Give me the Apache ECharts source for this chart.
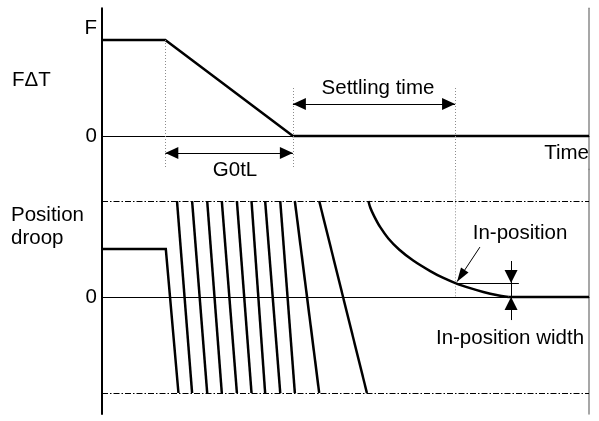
<!DOCTYPE html>
<html>
<head>
<meta charset="utf-8">
<script src="https://cdn.jsdelivr.net/npm/echarts@6/dist/echarts.min.js"></script>
<style>
html,body{margin:0;padding:0;background:#fff;}
#c{width:599px;height:421px;}
</style>
</head>
<body>
<div id="c"></div>
<script>
// ---------- data (time in arbitrary units 0..100) ----------
const decelStart = 13;      // start of deceleration
const decelEnd = 39.2;      // end of command (G0tL)
const settleEnd = 72.5;     // in-position reached
const inPosWidth = 0.145;   // in-position width (droop units)

// top panel: F∆T
const fdtTime  = [0, 13, 39.2, 100];
const fdtValue = [1, 1, 0, 0];

// bottom panel: position droop
const droopStartTime  = [0, 13.1];
const droopStartValue = [0.5, 0.5];
const wrapTopTime    = [15.4, 18.5, 21.6, 24.6, 27.7, 30.7, 33.5, 36.6, 39.6, 44.6];
const wrapBottomTime = [15.7, 18.5, 21.6, 24.6, 27.7, 30.7, 33.5, 36.6, 39.6, 44.6, 54.4];
const settleTime  = [54.7, 55.1, 55.9, 57.1, 58.8, 61.0, 63.9, 67.4, 70.1, 72.8, 75.6, 78.3, 81.0, 83.5];
const settleValue = [1.0, 0.93, 0.84, 0.73, 0.61, 0.495, 0.38, 0.27, 0.198, 0.14, 0.092, 0.052, 0.02, 0];
const restTime  = [83.5, 100];
const restValue = [0, 0];

const topTickValues = [0, 1.12];
const topTickLabels = ['0', 'F'];
const bottomTickValues = [0];
const bottomTickLabels = ['0'];

// ---------- layout ----------
const FONT = '"Liberation Sans", Arial, Helvetica, sans-serif';
const FS = 20.5;
const PX = 96;                 // px per value unit
const topZero = 136, botZero = 297;
const topMin = -0.35, topMax = 1.33;
const botMin = -1.22, botMax = 1.33;

const zip = (a, b) => a.map((v, i) => [v, b[i]]);
const black = '#000';
const thick = { color: black, width: 2.5, join: 'miter' };

const chart = echarts.init(document.getElementById('c'), null, { renderer: 'canvas' });

function yAxes(grid, min, max, vals, labels) {
  return [{
    gridIndex: grid, type: 'value', min, max, position: 'left',
    axisLine: { show: true, onZero: false, lineStyle: { color: black, width: 2 } },
    axisTick: { show: false }, splitLine: { show: false },
    axisLabel: {
      show: true, customValues: vals, margin: 5,
      formatter: v => { const i = vals.findIndex(x => Math.abs(x - v) < 1e-6); return i >= 0 ? labels[i] : ''; },
      fontSize: FS, fontFamily: FONT, color: black
    }
  }, {
    gridIndex: grid, type: 'value', min, max, position: 'right',
    axisLine: { show: true, onZero: false, lineStyle: { color: '#8a8a8a', width: 1.5 } },
    axisTick: { show: false }, splitLine: { show: false }, axisLabel: { show: false }
  }];
}
function xAxis(grid) {
  return {
    gridIndex: grid, type: 'value', min: 0, max: 100,
    axisLine: { show: true, onZero: true, lineStyle: { color: black, width: 1 } },
    axisTick: { show: false }, axisLabel: { show: false }, splitLine: { show: false }
  };
}

const dotted = { color: '#8c8c8c', width: 1, type: [1, 2] };
const thin = { color: black, width: 1, type: 'solid' };
const dashDot = { color: black, width: 1, type: [6, 2, 1.5, 2] };
const AH = [12, 13];

const seg = (p, q, style, s1, s2, size) => {
  const sz = size || AH;
  return [
    { coord: p, symbol: s1 || 'none', symbolSize: sz, symbolOffset: [0, sz[1] / 2], lineStyle: style },
    { coord: q, symbol: s2 || 'none', symbolSize: sz, symbolOffset: [0, sz[1] / 2] }
  ];
};

const series = [];
series.push({
  type: 'line', xAxisIndex: 0, yAxisIndex: 0, data: zip(fdtTime, fdtValue),
  symbol: 'none', lineStyle: thick, silent: true, animation: false,
  markLine: {
    silent: true, animation: false, symbol: ['none', 'none'], label: { show: false },
    data: [
      seg([decelStart, 1], [decelStart, -0.33], dotted),
      seg([decelEnd, 0.5], [decelEnd, -0.33], dotted),
      seg([settleEnd, 0.5], [settleEnd, topMin], dotted),
      seg([decelStart, -0.177], [decelEnd, -0.177], thin, 'triangle', 'triangle'),
      seg([decelEnd, 0.333], [settleEnd, 0.333], thin, 'triangle', 'triangle')
    ]
  }
});
// droop
series.push({
  type: 'line', xAxisIndex: 1, yAxisIndex: 2,
  data: zip(droopStartTime, droopStartValue).concat([[wrapBottomTime[0], -1]]),
  symbol: 'none', lineStyle: thick, silent: true, animation: false,
  markLine: {
    silent: true, animation: false, symbol: ['none', 'none'], label: { show: false },
    data: [
      seg([0, 1], [100, 1], dashDot),
      seg([0, -1], [100, -1], dashDot),
      seg([settleEnd, botMax], [settleEnd, 0], dotted),
      seg([settleEnd, inPosWidth], [85.6, inPosWidth], thin),
      seg([77.6, 0.52], [72.9, 0.16], thin, 'none', 'triangle', [9, 14]),
      seg([84, 0.375], [84, -0.24], thin),
      seg([84, 0.375], [84, inPosWidth], thin, 'none', 'triangle', [13, 13]),
      seg([84, -0.24], [84, 0], thin, 'none', 'triangle', [13, 13])
    ]
  }
});
for (let i = 0; i < wrapTopTime.length; i++) {
  series.push({
    type: 'line', xAxisIndex: 1, yAxisIndex: 2,
    data: [[wrapTopTime[i], 1], [wrapBottomTime[i + 1], -1]],
    symbol: 'none', lineStyle: thick, silent: true, animation: false
  });
}
series.push({
  type: 'line', xAxisIndex: 1, yAxisIndex: 2, data: zip(settleTime, settleValue),
  smooth: 0.35, symbol: 'none', lineStyle: thick, silent: true, animation: false
});
series.push({
  type: 'line', xAxisIndex: 1, yAxisIndex: 2, data: zip(restTime, restValue),
  symbol: 'none', lineStyle: thick, silent: true, animation: false
});

const txt = (text, x, y, align) => ({
  type: 'text', x, y, silent: true,
  style: { text, fill: black, fontSize: FS, fontFamily: FONT, font: FS + 'px ' + FONT,
           textAlign: align, textVerticalAlign: 'middle', align, verticalAlign: 'middle' }
});

chart.setOption({
  animation: false,
  backgroundColor: '#fff',
  grid: [
    { left: 102, width: 487, top: topZero - topMax * PX, height: (topMax - topMin) * PX },
    { left: 102, width: 487, top: botZero - botMax * PX, height: (botMax - botMin) * PX }
  ],
  xAxis: [xAxis(0), xAxis(1)],
  yAxis: yAxes(0, topMin, topMax, topTickValues, topTickLabels)
    .concat(yAxes(1, botMin, botMax, bottomTickValues, bottomTickLabels)),
  series,
  graphic: [
    txt('F\u0394T', 12, 80, 'left'),
    txt('Position', 11, 215, 'left'),
    txt('droop', 11, 238, 'left'),
    txt('Time', 589, 153, 'right'),
    txt('G0tL', 235, 170, 'center'),
    txt('Settling time', 378, 88, 'center'),
    txt('In-position', 520, 233, 'center'),
    txt('In-position width', 510, 338, 'center')
  ]
});
</script>
</body>
</html>
